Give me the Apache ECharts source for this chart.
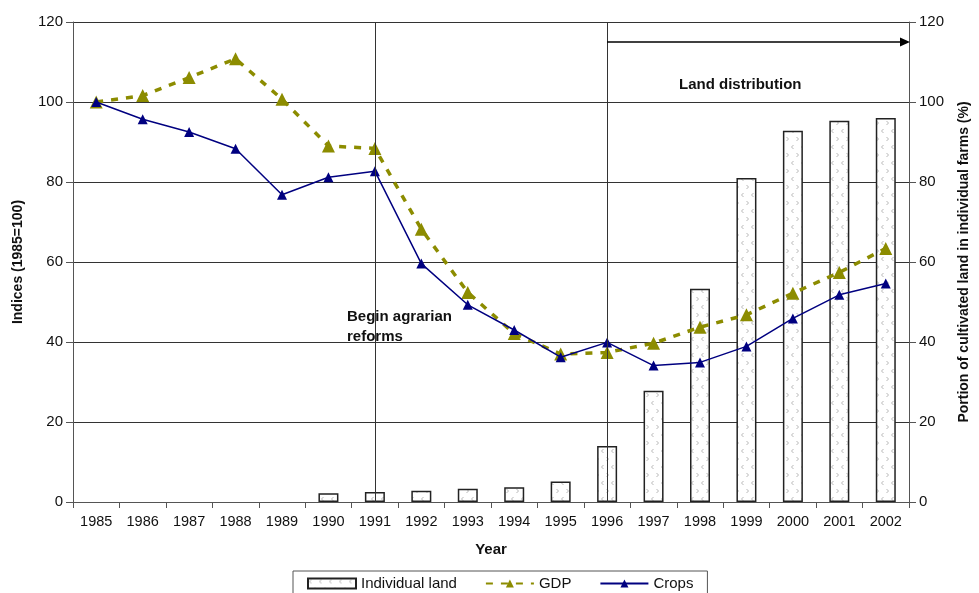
<!DOCTYPE html>
<html><head><meta charset="utf-8">
<script src="https://cdn.jsdelivr.net/npm/echarts@6/dist/echarts.min.js"></script>
<style>html,body{margin:0;padding:0;background:#fff}#c{width:979px;height:593px}</style>
</head><body><div id="c"></div>
<script>
const years = ['1985','1986','1987','1988','1989','1990','1991','1992','1993','1994','1995','1996','1997','1998','1999','2000','2001','2002'];
const individualLand = [null,null,null,null,null,2.2,2.5,2.8,3.3,3.7,5.1,14,27.8,53.3,81,92.8,95.3,96];
const gdp = [100,101.6,106.1,110.8,100.7,89,88.4,68.2,52.4,42.1,37,37.4,39.7,43.7,46.8,52.2,57.4,63.4];
const crops = [100,95.7,92.5,88.3,76.8,81.2,82.7,59.6,49.3,43,36.2,39.9,34.1,34.9,38.9,45.9,51.8,54.6];
const leftTicks = [0,20,40,60,80,100,120];
const eventYears = ['1991','1996'];
const arrowLevel = 115;

const FONT = '"Liberation Sans", Arial, sans-serif';

function makePattern(){
  const cv = document.createElement('canvas');
  cv.width = 10; cv.height = 16;
  const g = cv.getContext('2d');
  g.fillStyle = '#fff'; g.fillRect(0,0,10,16);
  g.strokeStyle = '#b8b8b8'; g.lineWidth = 1;
  g.beginPath(); g.moveTo(3.5,1); g.lineTo(1.5,3); g.lineTo(3.5,5); g.stroke();
  g.beginPath(); g.moveTo(6.5,9); g.lineTo(8.5,11); g.lineTo(6.5,13); g.stroke();
  return cv;
}

const chart = echarts.init(document.getElementById('c'));
const axisColor = '#555';
chart.setOption({
  animation: false,
  textStyle: {fontFamily: FONT},
  grid: {left: 73, right: 69, top: 22, bottom: 91},
  legend: {
    left: 293, top: 571, padding: [5, 14, 8, 14], itemGap: 28,
    itemWidth: 48, itemHeight: 10,
    borderColor: '#555', borderWidth: 1, backgroundColor: '#fff',
    textStyle: {fontSize: 15, color: '#111', fontFamily: FONT},
    data: [{name: 'Individual land', icon: 'rect'}, 'GDP', 'Crops']
  },
  xAxis: {
    type: 'category', data: years, boundaryGap: true,
    name: 'Year', nameLocation: 'middle', nameGap: 40,
    nameTextStyle: {fontWeight: 'bold', fontSize: 15, color: '#111'},
    axisLine: {lineStyle: {color: axisColor, width: 1}},
    axisTick: {show: true, length: 6, lineStyle: {color: axisColor}},
    axisLabel: {fontSize: 14.5, color: '#111', margin: 12},
    splitLine: {show: false}
  },
  yAxis: [{
    type: 'value', min: 0, max: 120, interval: 20,
    name: 'Indices (1985=100)', nameLocation: 'middle', nameGap: 48, nameRotate: 90,
    nameTextStyle: {fontWeight: 'bold', fontSize: 14, color: '#111'},
    axisLine: {show: true, lineStyle: {color: axisColor}},
    axisTick: {show: true, length: 7, lineStyle: {color: axisColor}},
    axisLabel: {fontSize: 15, color: '#111', margin: 10},
    splitLine: {show: true, lineStyle: {color: '#333', width: 1}}
  }, {
    type: 'value', min: 0, max: 120, interval: 20, position: 'right',
    name: 'Portion of cultivated land in individual farms (%)', nameLocation: 'middle', nameGap: 48, nameRotate: 90,
    nameTextStyle: {fontWeight: 'bold', fontSize: 14, color: '#111'},
    axisLine: {show: true, lineStyle: {color: axisColor}},
    axisTick: {show: true, length: 7, lineStyle: {color: axisColor}},
    axisLabel: {fontSize: 15, color: '#111', margin: 10},
    splitLine: {show: false}
  }],
  series: [{
    name: 'Individual land', type: 'bar', yAxisIndex: 1, data: individualLand,
    barWidth: 20, z: 1,
    itemStyle: {color: {image: makePattern(), repeat: 'repeat'}, borderColor: '#222', borderWidth: 1.5}
  }, {
    name: 'GDP', type: 'line', data: gdp, z: 3,
    symbol: 'triangle', symbolSize: 13,
    lineStyle: {color: '#8c8c00', width: 3.5, type: [7, 8]},
    itemStyle: {color: '#8c8c00'}
  }, {
    name: 'Crops', type: 'line', data: crops, z: 4,
    symbol: 'triangle', symbolSize: 10,
    lineStyle: {color: '#000080', width: 1.5},
    itemStyle: {color: '#000080'},
    markLine: {
      silent: true, symbol: 'none', label: {show: false},
      lineStyle: {color: '#333', width: 1, type: 'solid'},
      data: eventYears.map(y => ({xAxis: y}))
    }
  }]
});

const start = chart.convertToPixel({xAxisIndex: 0, yAxisIndex: 0}, [eventYears[1], arrowLevel]);
const rightEdge = chart.getWidth() - 69;
chart.setOption({
  graphic: [
    {type: 'line', shape: {x1: start[0], y1: start[1], x2: rightEdge - 8, y2: start[1]}, style: {stroke: '#000', lineWidth: 1.5}, z: 10},
    {type: 'polygon', shape: {points: [[rightEdge, start[1]], [rightEdge - 10, start[1] - 4.5], [rightEdge - 10, start[1] + 4.5]]}, style: {fill: '#000'}, z: 10},
    {type: 'text', left: 679, top: 77, style: {text: 'Land distribution', font: 'bold 15px ' + FONT, fill: '#111'}, z: 10},
    {type: 'text', left: 347, top: 307, style: {text: 'Begin agrarian\nreforms', font: 'bold 15px ' + FONT, fill: '#111', lineHeight: 20}, z: 10}
  ]
});
</script></body></html>
